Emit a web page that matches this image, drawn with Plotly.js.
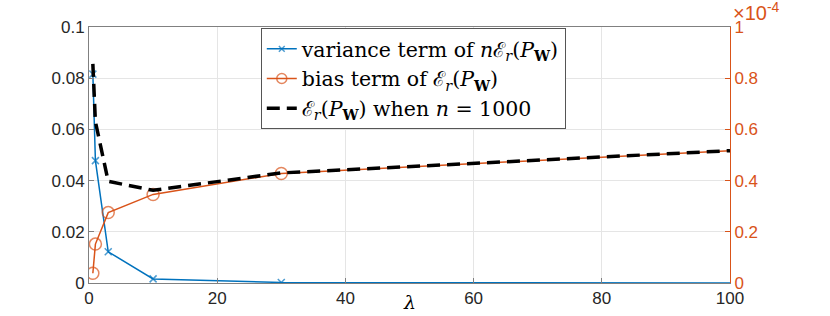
<!DOCTYPE html>
<html>
<head>
<meta charset="utf-8">
<script src="https://cdn.plot.ly/plotly-3.0.1.min.js"></script>
<style>html,body{margin:0;padding:0;background:#fff;}#chart{width:830px;height:316px;}</style>
</head>
<body>
<div id="chart"></div>
<script>
// lambda values
const lambda = [0.6, 1, 3, 10, 30, 100];
// variance term of n*E_r(P_W) (left axis)
const varianceTerm = [0.0816, 0.0478, 0.0122, 0.0016, 0.0002, 0.00003];
// bias term of E_r(P_W) (right axis, in units of 1e-4)
const biasTerm = [0.038, 0.152, 0.275, 0.346, 0.428, 0.517];
// E_r(P_W) when n = 1000 (right axis, in units of 1e-4)
const totalErr = [0.856, 0.63, 0.397, 0.362, 0.43, 0.517];

const xTicks = [0, 20, 40, 60, 80, 100];
const yLeftTicks = [0, 0.02, 0.04, 0.06, 0.08, 0.1];
const yLeftLabels = ['0', '0.02', '0.04', '0.06', '0.08', '0.1'];
const yRightTicks = [0, 0.2, 0.4, 0.6, 0.8, 1];
const yRightLabels = ['0', '0.2', '0.4', '0.6', '0.8', '1'];

const blue = '#0072BD', orange = '#D95319';
const tickFont = {family: 'Liberation Sans, Arial, sans-serif', size: 17, color: '#262626'};
const serif = 'DejaVu Serif';
const legFont = {family: serif, size: 20.5, color: '#000'};

// last point lies on the axis edge: no marker drawn there (as in the reference)
const mkSizeX = lambda.map((v, i) => i === lambda.length - 1 ? 0 : 7);
const mkSizeO = lambda.map((v, i) => i === lambda.length - 1 ? 0 : 12);

const traces = [
  {x: lambda, y: varianceTerm, yaxis: 'y', type: 'scatter', mode: 'lines+markers',
   name: 'variance term of <i>n</i>ℰ<sub><i>r</i></sub>(<i>P</i><sub><b>W</b></sub>)',
   line: {color: blue, width: 1.5},
   marker: {symbol: 'x-thin-open', size: mkSizeX, line: {color: blue, width: 1.5}, color: blue}},
  {x: lambda, y: biasTerm, yaxis: 'y2', type: 'scatter', mode: 'lines+markers',
   name: 'bias term of ℰ<sub><i>r</i></sub>(<i>P</i><sub><b>W</b></sub>)',
   line: {color: orange, width: 1.5},
   marker: {symbol: 'circle-open', size: mkSizeO, line: {color: orange, width: 1.5}, color: orange}},
  {x: lambda, y: totalErr, yaxis: 'y2', type: 'scatter', mode: 'lines',
   name: 'ℰ<sub><i>r</i></sub>(<i>P</i><sub><b>W</b></sub>) when <i>n</i> = 1000',
   line: {color: '#000', width: 3.5, dash: '13px,7px'}}
];

const layout = {
  width: 830, height: 316,
  margin: {l: 89, r: 100, t: 27, b: 33},
  paper_bgcolor: '#fff', plot_bgcolor: '#fff',
  showlegend: true,
  legend: {x: 0.268, y: 0.996, xanchor: 'left', yanchor: 'top',
           bgcolor: '#fff', bordercolor: '#555', borderwidth: 1,
           font: legFont, tracegroupgap: 0, itemwidth: 30},
  xaxis: {range: [0, 100], tickvals: xTicks, ticktext: xTicks.map(String),
          showgrid: true, gridcolor: '#e5e5e5', zeroline: false,
          showline: true, linecolor: '#808080', mirror: true, linewidth: 1,
          ticks: 'inside', ticklen: 5, tickcolor: '#808080',
          tickfont: tickFont, fixedrange: true},
  yaxis: {range: [0, 0.1], tickvals: yLeftTicks, ticktext: yLeftLabels,
          showgrid: true, gridcolor: '#e5e5e5', zeroline: false,
          showline: true, linecolor: '#808080', linewidth: 1,
          ticks: 'inside', ticklen: 5, tickcolor: '#808080',
          tickfont: tickFont, fixedrange: true},
  yaxis2: {range: [0, 1], overlaying: 'y', side: 'right',
           tickvals: yRightTicks, ticktext: yRightLabels,
           showgrid: false, zeroline: false,
           showline: true, linecolor: orange, linewidth: 1,
           ticks: 'inside', ticklen: 5, tickcolor: orange,
           tickfont: {family: tickFont.family, size: 17, color: orange}, fixedrange: true},
  annotations: [
    {text: '<i>λ</i>', xref: 'paper', yref: 'paper', x: 0.5, y: -0.075, xanchor: 'center', yanchor: 'middle',
     showarrow: false, font: {family: serif, size: 19, color: '#000'}},
    {text: '×10<sup>-4</sup>', xref: 'paper', yref: 'paper', x: 1.0, y: 1.0, xanchor: 'left', yanchor: 'bottom',
     yshift: 1, xshift: 1,
     showarrow: false, font: {family: tickFont.family, size: 20, color: orange}}
  ]
};

Plotly.newPlot('chart', traces, layout, {displayModeBar: false, staticPlot: true});
</script>
</body>
</html>
